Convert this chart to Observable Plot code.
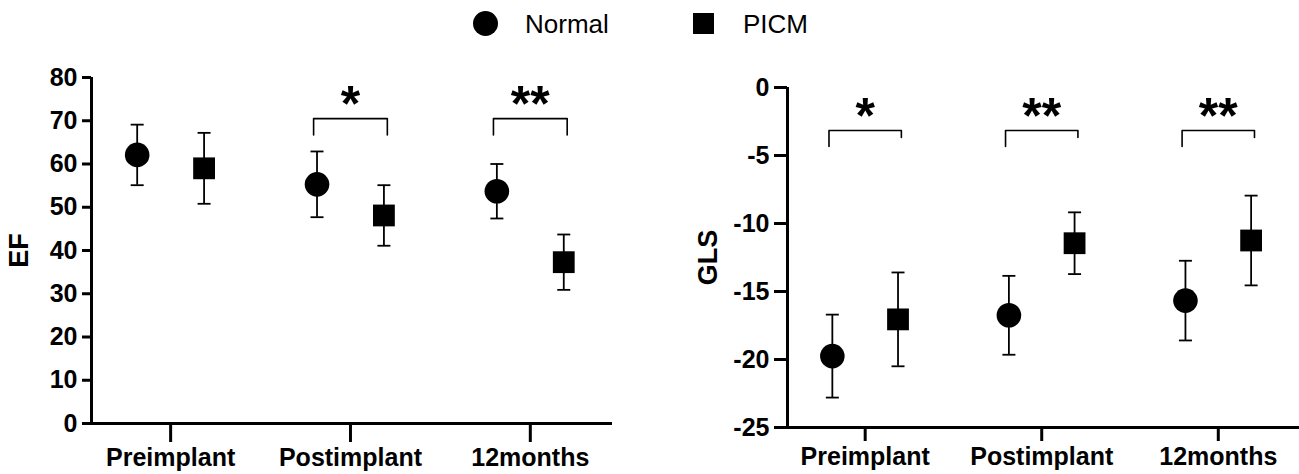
<!DOCTYPE html>
<html>
<head>
<meta charset="utf-8">
<script src="https://cdn.jsdelivr.net/npm/d3@7"></script>
<script src="https://cdn.jsdelivr.net/npm/@observablehq/plot@0.6"></script>
<style>
  html, body { margin: 0; padding: 0; background: #fff; }
  #root { position: relative; width: 1299px; height: 474px; overflow: hidden;
          font-family: "Liberation Sans", Arial, sans-serif; color: #000; }
  .panel { position: absolute; top: 40px; }
  .leg { position: absolute; font-size: 26px; line-height: 1; color: #000; white-space: nowrap; }
  .sw-circle { position: absolute; width: 25px; height: 25px; border-radius: 50%; background: #000; }
  .sw-square { position: absolute; width: 21px; height: 21px; background: #000; }
</style>
</head>
<body>
<div id="root">
  <div class="sw-circle" style="left:473px; top:11px;"></div>
  <div class="leg" style="left:525px; top:11px;">Normal</div>
  <div class="sw-square" style="left:693px; top:13px;"></div>
  <div class="leg" style="left:743px; top:11px;">PICM</div>
  <div id="left" class="panel" style="left:0px;"></div>
  <div id="right" class="panel" style="left:640px;"></div>
</div>
<script>
// ---------- data ----------
const times = ["Preimplant", "Postimplant", "12months"];
const groups = ["Normal", "PICM"];

const efNormal   = [62.1, 55.3, 53.7];
const efNormalSD = [7.0, 7.6, 6.3];
const efPICM     = [59.0, 48.1, 37.3];
const efPICMSD   = [8.2, 7.0, 6.4];

const glsNormal   = [-19.75, -16.75, -15.67];
const glsNormalSD = [3.05, 2.9, 2.93];
const glsPICM     = [-17.05, -11.45, -11.25];
const glsPICMSD   = [3.45, 2.27, 3.3];

const efTicks  = [0, 10, 20, 30, 40, 50, 60, 70, 80];
const glsTicks = [0, -5, -10, -15, -20, -25];

const efSig  = [{time: "Postimplant", label: "*"}, {time: "12months", label: "**"}];
const glsSig = [{time: "Preimplant", label: "*"}, {time: "Postimplant", label: "**"}, {time: "12months", label: "**"}];

// bracket levels (data units)
const efBracket  = {bar: 70.5, legL: 66.7, legR: 66.7, star: 76.0};
const glsBracket = {bar: -3.16, legL: -4.34, legR: -3.68, star: -1.47};

// ---------- helpers ----------
const FONT = '"Liberation Sans", Arial, sans-serif';
const dodge = {Normal: -0.186, PICM: 0.186};
const bracketHalf = 0.205;
const capSymbol = {
  draw(context, size) {
    const w = Math.sqrt(size / Math.PI);
    context.moveTo(-w, 0);
    context.lineTo(w, 0);
  }
};
const hyphenFormat = d => (d < 0 ? "-" + Math.abs(d) : String(d));

function buildRows(nMean, nSD, pMean, pSD) {
  return times.flatMap((t, i) => [
    {time: t, i, group: "Normal", mean: nMean[i], sd: nSD[i]},
    {time: t, i, group: "PICM", mean: pMean[i], sd: pSD[i]}
  ]);
}

function panel(cfg) {
  const rows = buildRows(...cfg.series);
  const px = d => d.i + dodge[d.group];
  const bracketPts = cfg.sig.flatMap(s => {
    const i = times.indexOf(s.time);
    return [
      {time: s.time, x: i - bracketHalf, y: cfg.br.legL},
      {time: s.time, x: i - bracketHalf, y: cfg.br.bar},
      {time: s.time, x: i + bracketHalf, y: cfg.br.bar},
      {time: s.time, x: i + bracketHalf, y: cfg.br.legR}
    ];
  });
  return Plot.plot({
    width: cfg.width,
    height: 434,
    marginLeft: cfg.marginLeft,
    marginRight: cfg.marginRight,
    marginTop: cfg.marginTop,
    marginBottom: cfg.marginBottom,
    style: {fontFamily: FONT, fontSize: cfg.tickFont + "px", fontWeight: "bold", color: "#000", background: "#fff", overflow: "visible"},
    x: {domain: cfg.xDomain, axis: null},
    y: {domain: cfg.yDomain, axis: null},
    symbol: {domain: groups, range: ["circle", "square"]},
    marks: [
      Plot.axisY({ticks: cfg.ticks, tickFormat: hyphenFormat, tickSize: cfg.yTickSize, tickPadding: 5, strokeWidth: 3,
                  label: null, fontSize: cfg.tickFont, fontWeight: "bold", fill: "#000", stroke: "#000"}),
      Plot.axisX({ticks: [0, 1, 2], tickFormat: i => times[i], tickSize: cfg.xTickSize, tickPadding: 6,
                  strokeWidth: 3, label: null, fontSize: 25, fontWeight: "bold", fill: "#000", stroke: "#000"}),
      Plot.ruleX([cfg.xDomain[0]], {stroke: "#000", strokeWidth: 3}),
      Plot.ruleY([cfg.yDomain[0]], {stroke: "#000", strokeWidth: 3}),
      // error bars
      Plot.ruleX(rows, {x: px, y1: d => d.mean - d.sd, y2: d => d.mean + d.sd, stroke: "#000", strokeWidth: 1.8}),
      Plot.dot(rows, {x: px, y: d => d.mean + d.sd, symbol: capSymbol, r: 6.5, fill: "none", stroke: "#000", strokeWidth: 1.8}),
      Plot.dot(rows, {x: px, y: d => d.mean - d.sd, symbol: capSymbol, r: 6.5, fill: "none", stroke: "#000", strokeWidth: 1.8}),
      // means
      Plot.dot(rows, {x: px, y: "mean", symbol: "group", r: 12.3, fill: "#000", stroke: "none"}),
      // significance brackets
      Plot.line(bracketPts, {x: "x", y: "y", z: "time", stroke: "#000", strokeWidth: 1.6, curve: "linear"}),
      Plot.text(cfg.sig, {x: d => times.indexOf(d.time), y: () => cfg.br.star, text: "label",
                          fontSize: 50, fontWeight: "bold", fill: "#000", lineAnchor: "middle", dy: 10}),
      // y-axis title
      Plot.text([cfg.label], {frameAnchor: "left", dx: cfg.labelDx, rotate: -90, text: d => d,
                              fontSize: 27, fontWeight: "bold", fill: "#000", lineAnchor: "middle", textAnchor: "middle"})
    ]
  });
}

document.getElementById("left").append(panel({
  series: [efNormal, efNormalSD, efPICM, efPICMSD],
  ticks: efTicks, yDomain: [0, 80], xDomain: [-0.44, 2.457],
  sig: efSig, br: efBracket, label: "EF",
  width: 640, marginLeft: 91, marginRight: 28, marginTop: 37, marginBottom: 51,
  yTickSize: 9, xTickSize: 19, tickFont: 25, labelDx: -72
}));

document.getElementById("right").append(panel({
  series: [glsNormal, glsNormalSD, glsPICM, glsPICMSD],
  ticks: glsTicks, yDomain: [-25, 0], xDomain: [-0.44, 2.46],
  sig: glsSig, br: glsBracket, label: "GLS",
  width: 659, marginLeft: 147, marginRight: 0, marginTop: 47, marginBottom: 47,
  yTickSize: 13, xTickSize: 14, tickFont: 25, labelDx: -79
}));
</script>
</body>
</html>
